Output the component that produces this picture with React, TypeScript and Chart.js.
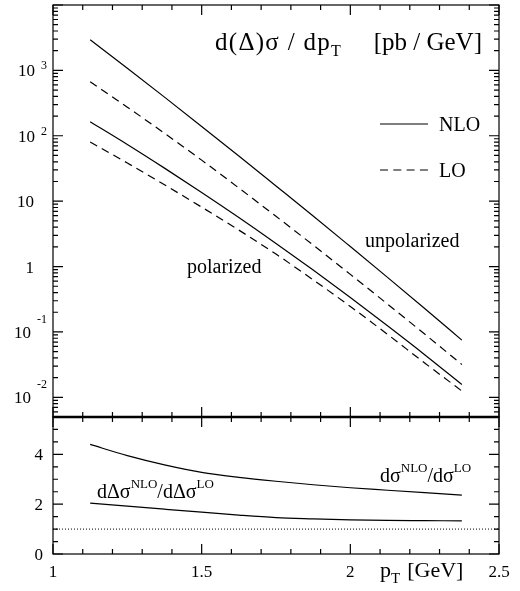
import React, { useEffect, useRef } from "react";
import { Chart, registerables } from "chart.js";
Chart.register(...registerables);

// ---- data ----
const pT = [1.125, 1.25, 1.375, 1.5, 1.625, 1.75, 1.875, 2.0, 2.125, 2.25, 2.375];
const unpolNLO = [2950, 1080, 390, 139, 49.1, 17.1, 5.93, 2.02, 0.683, 0.228, 0.075];
const unpolLO = [671, 274, 109, 42.4, 15.9, 5.86, 2.13, 0.759, 0.267, 0.0927, 0.0318];
const polNLO = [164, 73.6, 32.0, 13.6, 5.63, 2.26, 0.883, 0.336, 0.124, 0.0449, 0.0157];
const polLO = [80.4, 38.3, 17.8, 8.1, 3.61, 1.55, 0.626, 0.245, 0.0919, 0.0335, 0.0125];
const ratioUnpol = [4.4, 3.95, 3.58, 3.28, 3.08, 2.92, 2.78, 2.66, 2.56, 2.46, 2.36];
const ratioPol = [2.04, 1.92, 1.8, 1.68, 1.56, 1.46, 1.41, 1.37, 1.35, 1.34, 1.33];
const unityX = [1, 2.5];
const unityY = [1, 1];

const xTickValues = [1, 1.5, 2, 2.5];
const xTickLabels = ["1", "1.5", "2", "2.5"];
const topTickValues = [1000, 100, 10, 1, 0.1, 0.01];
const topTickBases = ["10", "10", "10", "1", "10", "10"];
const topTickExps = ["3", "2", "", "", "-1", "-2"];
const bottomTickValues = [0, 2, 4];
const bottomTickLabels = ["0", "2", "4"];

const SERIF = '"Liberation Serif", "Times New Roman", Times, serif';
const font = (s: number) => `${s}px ${SERIF}`;
const DASH = [8, 5.3];

function strokeXTicks(ctx: CanvasRenderingContext2D, xs: any, y: number, dir: number) {
  for (let i = 10; i <= 25; i++) {
    const px = xs.getPixelForValue(i / 10);
    const len = i % 5 === 0 ? 10 : 5;
    ctx.moveTo(px, y);
    ctx.lineTo(px, y + dir * len);
  }
}

function drawRich(ctx: CanvasRenderingContext2D, x: number, y: number, parts: [string, number, number][]) {
  let cx = x;
  ctx.textAlign = "left";
  for (const [t, size, dy] of parts) {
    ctx.font = font(size);
    ctx.fillText(t, cx, y + dy);
    cx += ctx.measureText(t).width;
  }
  return cx;
}

const topPlugin = {
  id: "topDecor",
  afterDraw(chart: any) {
    const { ctx, chartArea: a } = chart;
    const xs = chart.scales.x;
    const ys = chart.scales.y;
    ctx.save();
    ctx.strokeStyle = "#000";
    ctx.fillStyle = "#000";
    ctx.lineWidth = 1.2;
    ctx.setLineDash([]);
    ctx.strokeRect(a.left, a.top, a.right - a.left, a.bottom - a.top);
    ctx.beginPath();
    strokeXTicks(ctx, xs, a.top, 1);
    strokeXTicks(ctx, xs, a.bottom, -1);
    for (let e = -3; e <= 4; e++) {
      for (let m = 1; m <= 9; m++) {
        const v = m * Math.pow(10, e);
        if (v < ys.min * 0.999 || v > ys.max * 1.001) continue;
        const py = ys.getPixelForValue(v);
        const len = m === 1 ? 10 : 5;
        ctx.moveTo(a.left, py);
        ctx.lineTo(a.left + len, py);
        ctx.moveTo(a.right, py);
        ctx.lineTo(a.right - len, py);
      }
    }
    ctx.stroke();

    // y tick labels
    ctx.textBaseline = "alphabetic";
    topTickValues.forEach((v, i) => {
      const py = ys.getPixelForValue(v);
      const exp = topTickExps[i];
      ctx.textAlign = "right";
      if (exp) {
        const neg = exp.startsWith("-");
        ctx.font = font(12);
        const ew = ctx.measureText(exp).width;
        ctx.fillText(exp, 47, py + (neg ? -9 : -1));
        ctx.font = font(17);
        ctx.fillText(topTickBases[i], 47 - ew - 6, py + 6);
      } else {
        ctx.font = font(17);
        ctx.fillText(topTickBases[i], 34, py + 6);
      }
    });

    // title
    const head = "d(\u0394)\u03c3 / dp";
    ctx.font = font(25);
    const natural = ctx.measureText(head).width;
    const ls = Math.max(0, (116 - natural) / head.length);
    (ctx as any).letterSpacing = `${ls}px`;
    ctx.textAlign = "left";
    ctx.fillText(head, 215, 50);
    const headEnd = 215 + ctx.measureText(head).width;
    (ctx as any).letterSpacing = "0px";
    drawRich(ctx, headEnd, 50, [["T", 16, 6]]);
    ctx.font = font(25);
    const tail = "[pb / GeV]";
    const tw = ctx.measureText(tail).width;
    drawRich(ctx, 482 - tw, 50, [[tail, 25, 0]]);

    // legend
    ctx.lineWidth = 1.2;
    ctx.beginPath();
    ctx.moveTo(380, 124);
    ctx.lineTo(428, 124);
    ctx.stroke();
    ctx.setLineDash(DASH);
    ctx.beginPath();
    ctx.moveTo(380, 170);
    ctx.lineTo(428, 170);
    ctx.stroke();
    ctx.setLineDash([]);
    drawRich(ctx, 439, 131, [["NLO", 20, 0]]);
    drawRich(ctx, 439, 177, [["LO", 20, 0]]);

    // curve labels
    drawRich(ctx, 365, 247, [["unpolarized", 20, 0]]);
    drawRich(ctx, 187, 273, [["polarized", 20, 0]]);
    ctx.restore();
  },
};

const bottomPlugin = {
  id: "bottomDecor",
  afterDraw(chart: any) {
    const { ctx, chartArea: a } = chart;
    const xs = chart.scales.x;
    const ys = chart.scales.y;
    ctx.save();
    ctx.strokeStyle = "#000";
    ctx.fillStyle = "#000";
    ctx.setLineDash([]);
    ctx.lineWidth = 1.2;
    ctx.strokeRect(a.left, a.top, a.right - a.left, a.bottom - a.top);
    ctx.lineWidth = 2.6;
    ctx.beginPath();
    ctx.moveTo(a.left, a.top);
    ctx.lineTo(a.right, a.top);
    ctx.stroke();
    ctx.lineWidth = 1.2;
    ctx.beginPath();
    strokeXTicks(ctx, xs, a.top, 1);
    strokeXTicks(ctx, xs, a.bottom, -1);
    for (let k = 0; k <= 11; k++) {
      const v = k * 0.5;
      const py = ys.getPixelForValue(v);
      const len = bottomTickValues.includes(v) ? 10 : 5;
      ctx.moveTo(a.left, py);
      ctx.lineTo(a.left + len, py);
      ctx.moveTo(a.right, py);
      ctx.lineTo(a.right - len, py);
    }
    ctx.stroke();

    ctx.textBaseline = "alphabetic";
    ctx.font = font(17);
    ctx.textAlign = "right";
    bottomTickValues.forEach((v, i) => {
      ctx.fillText(bottomTickLabels[i], 43, ys.getPixelForValue(v) + 6);
    });
    ctx.textAlign = "center";
    xTickValues.forEach((v, i) => {
      ctx.fillText(xTickLabels[i], xs.getPixelForValue(v), a.bottom + 23);
    });

    // axis title
    const ax = drawRich(ctx, 380, a.bottom + 23, [["p", 22, 0], ["T", 15, 6]]);
    drawRich(ctx, ax + 7, a.bottom + 23, [["[GeV]", 22, 0]]);

    // ratio labels
    drawRich(ctx, 97, 498 - 400, [
      ["d\u0394\u03c3", 20, 0],
      ["NLO", 13, -10],
      ["/d\u0394\u03c3", 20, 0],
      ["LO", 13, -10],
    ]);
    drawRich(ctx, 380, 482 - 400, [
      ["d\u03c3", 20, 0],
      ["NLO", 13, -10],
      ["/d\u03c3", 20, 0],
      ["LO", 13, -10],
    ]);
    ctx.restore();
  },
};

const line = (xs: number[], ys: number[], dash: number[] = [], width = 1.2) => ({
  data: xs.map((x, i) => ({ x, y: ys[i] })),
  borderColor: "#000",
  backgroundColor: "#000",
  borderWidth: width,
  borderDash: dash,
  pointRadius: 0,
  fill: false,
  cubicInterpolationMode: "monotone" as const,
});

export default function App() {
  const topRef = useRef<HTMLCanvasElement | null>(null);
  const botRef = useRef<HTMLCanvasElement | null>(null);

  useEffect(() => {
    const top = new Chart(topRef.current!, {
      type: "line",
      data: {
        datasets: [
          line(pT, unpolNLO),
          line(pT, unpolLO, DASH),
          line(pT, polNLO),
          line(pT, polLO, DASH),
        ] as any,
      },
      options: {
        responsive: false,
        animation: false,
        events: [],
        layout: { padding: { left: 53, right: 21, top: 5, bottom: 13 } },
        plugins: { legend: { display: false }, tooltip: { enabled: false } },
        scales: {
          x: { type: "linear", min: 1, max: 2.5, display: false },
          y: { type: "logarithmic", min: 0.005, max: 10000, display: false },
        },
      },
      plugins: [topPlugin],
    });
    const bot = new Chart(botRef.current!, {
      type: "line",
      data: {
        datasets: [
          line(pT, ratioUnpol),
          line(pT, ratioPol),
          line(unityX, unityY, [1, 2], 1),
        ] as any,
      },
      options: {
        responsive: false,
        animation: false,
        events: [],
        layout: { padding: { left: 53, right: 21, top: 17, bottom: 37 } },
        plugins: { legend: { display: false }, tooltip: { enabled: false } },
        scales: {
          x: { type: "linear", min: 1, max: 2.5, display: false },
          y: { type: "linear", min: 0, max: 5.5, display: false },
        },
      },
      plugins: [bottomPlugin],
    });
    return () => {
      top.destroy();
      bot.destroy();
    };
  }, []);

  return (
    <div style={{ position: "absolute", left: 0, top: 0, width: 520, height: 591, background: "#fff" }}>
      <canvas ref={topRef} width={520} height={430} style={{ position: "absolute", left: 0, top: 0 }} />
      <canvas ref={botRef} width={520} height={191} style={{ position: "absolute", left: 0, top: 400 }} />
    </div>
  );
}
